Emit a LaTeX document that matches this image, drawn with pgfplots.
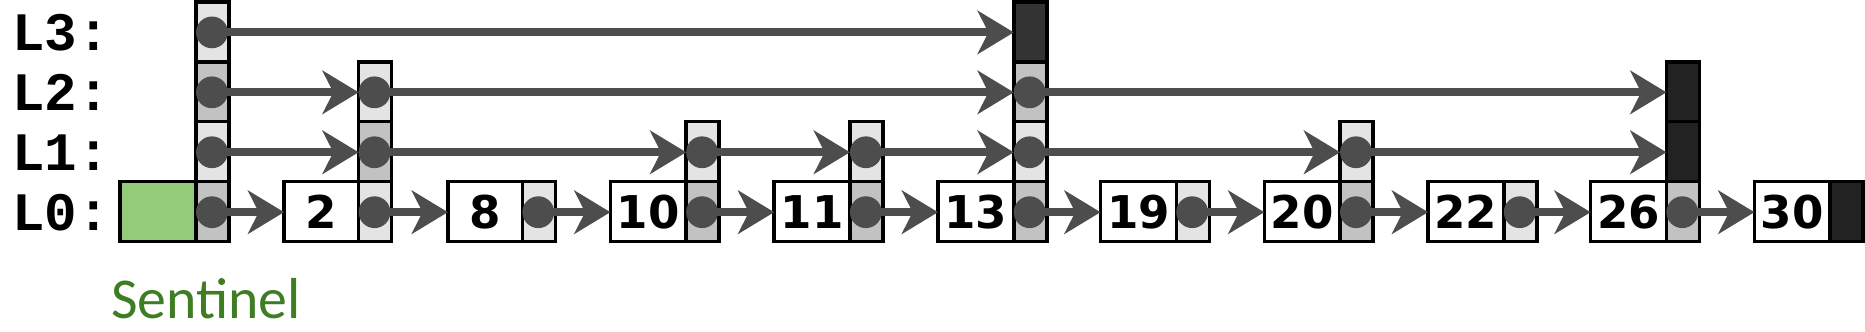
\documentclass[border=0pt]{standalone}
\usepackage{pgfplots}
\pgfplotsset{compat=1.18}
\usetikzlibrary{arrows.meta}
\usepackage{fontspec}
\newfontfamily\monob{Liberation Mono}
\newfontfamily\numf{DejaVu Sans}
\newfontfamily\sentf{Carlito}
\definecolor{lt}{HTML}{E4E4E4}
\definecolor{dk}{HTML}{C2C2C2}
\definecolor{bk}{HTML}{222222}
\definecolor{bk3}{HTML}{333333}
\definecolor{gr}{HTML}{93CB78}
\definecolor{ar}{HTML}{4D4D4D}
\definecolor{sg}{HTML}{3F7D24}
\newcommand{\bx}[5]{\addplot[fill=#5,draw=black,line width=1pt] coordinates {(#1,#2) (#3,#2) (#3,#4) (#1,#4)} --cycle;}
\newcommand{\arr}[3]{\addplot[ar,line width=2.2pt,-{Stealth[length=10pt,width=12pt,inset=3pt]}] coordinates {(#1,#3) (#2,#3)};}
\newcommand{\lab}[2]{\node[anchor=west,font=\monob\bfseries\fontsize{15}{15}\selectfont] at (axis cs:12,#2) {#1:};}
\newcommand{\num}[2]{\node[font=\numf\bfseries\fontsize{12.5}{12.5}\selectfont] at (axis cs:#2,247) {#1};}
\begin{document}
\begin{tikzpicture}
\begin{axis}[width=18.65cm,height=4.38cm,scale only axis,hide axis,
 xmin=0,xmax=1568,ymin=0,ymax=368,y dir=reverse,clip=false]
% sentinel
\bx{111}{222}{173}{271}{gr}
\bx{173}{222}{200}{271}{dk}
\bx{173}{173}{200}{222}{lt}
\bx{173}{124}{200}{173}{dk}
\bx{173}{75}{200}{124}{lt}
% key boxes
\bx{245}{222}{306}{271}{white}\bx{306}{222}{333}{271}{lt}\bx{306}{173}{333}{222}{dk}\bx{306}{124}{333}{173}{lt}
\bx{379}{222}{440}{271}{white}\bx{440}{222}{467}{271}{lt}
\bx{512}{222}{574}{271}{white}\bx{574}{222}{601}{271}{dk}\bx{574}{173}{601}{222}{lt}
\bx{646}{222}{708}{271}{white}\bx{708}{222}{735}{271}{dk}\bx{708}{173}{735}{222}{lt}
\bx{780}{222}{842}{271}{white}\bx{842}{222}{869}{271}{dk}\bx{842}{173}{869}{222}{lt}\bx{842}{124}{869}{173}{dk}\bx{842}{75}{869}{124}{bk3}
\bx{913}{222}{975}{271}{white}\bx{975}{222}{1002}{271}{lt}
\bx{1047}{222}{1109}{271}{white}\bx{1109}{222}{1136}{271}{dk}\bx{1109}{173}{1136}{222}{lt}
\bx{1181}{222}{1243}{271}{white}\bx{1243}{222}{1270}{271}{lt}
\bx{1314}{222}{1376}{271}{white}\bx{1376}{222}{1403}{271}{dk}\bx{1376}{173}{1403}{222}{bk}\bx{1376}{124}{1403}{173}{bk}
\bx{1448}{222}{1510}{271}{white}\bx{1510}{222}{1537}{271}{bk}
% arrows L0
\arr{186}{245}{247}\arr{319}{379}{247}\arr{453}{512}{247}\arr{587}{646}{247}\arr{721}{780}{247}
\arr{855}{913}{247}\arr{988}{1047}{247}\arr{1122}{1181}{247}\arr{1256}{1314}{247}\arr{1389}{1448}{247}
% L1
\arr{186}{306}{198}\arr{319}{574}{198}\arr{587}{708}{198}\arr{721}{842}{198}\arr{855}{1109}{198}\arr{1122}{1376}{198}
% L2
\arr{186}{306}{149}\arr{319}{842}{149}\arr{855}{1376}{149}
% L3
\arr{186}{842}{100}
% dots
\addplot[only marks,mark=*,mark size=4.2pt,ar] coordinates {
(186,247)(319,247)(453,247)(587,247)(721,247)(855,247)(988,247)(1122,247)(1256,247)(1389,247)
(186,198)(319,198)(587,198)(721,198)(855,198)(1122,198)
(186,149)(319,149)(855,149)(186,100)};
% labels
\lab{L3}{100}\lab{L2}{149}\lab{L1}{198}\lab{L0}{247}
\num{2}{275.5}\num{8}{409.5}\num{10}{543}\num{11}{677}\num{13}{811}
\num{19}{944}\num{20}{1078}\num{22}{1212}\num{26}{1345}\num{30}{1479}
\node[anchor=west,text=sg,font=\sentf\fontsize{16}{16}\selectfont] at (axis cs:93,318) {Sentinel};
\end{axis}
\end{tikzpicture}
\end{document}
